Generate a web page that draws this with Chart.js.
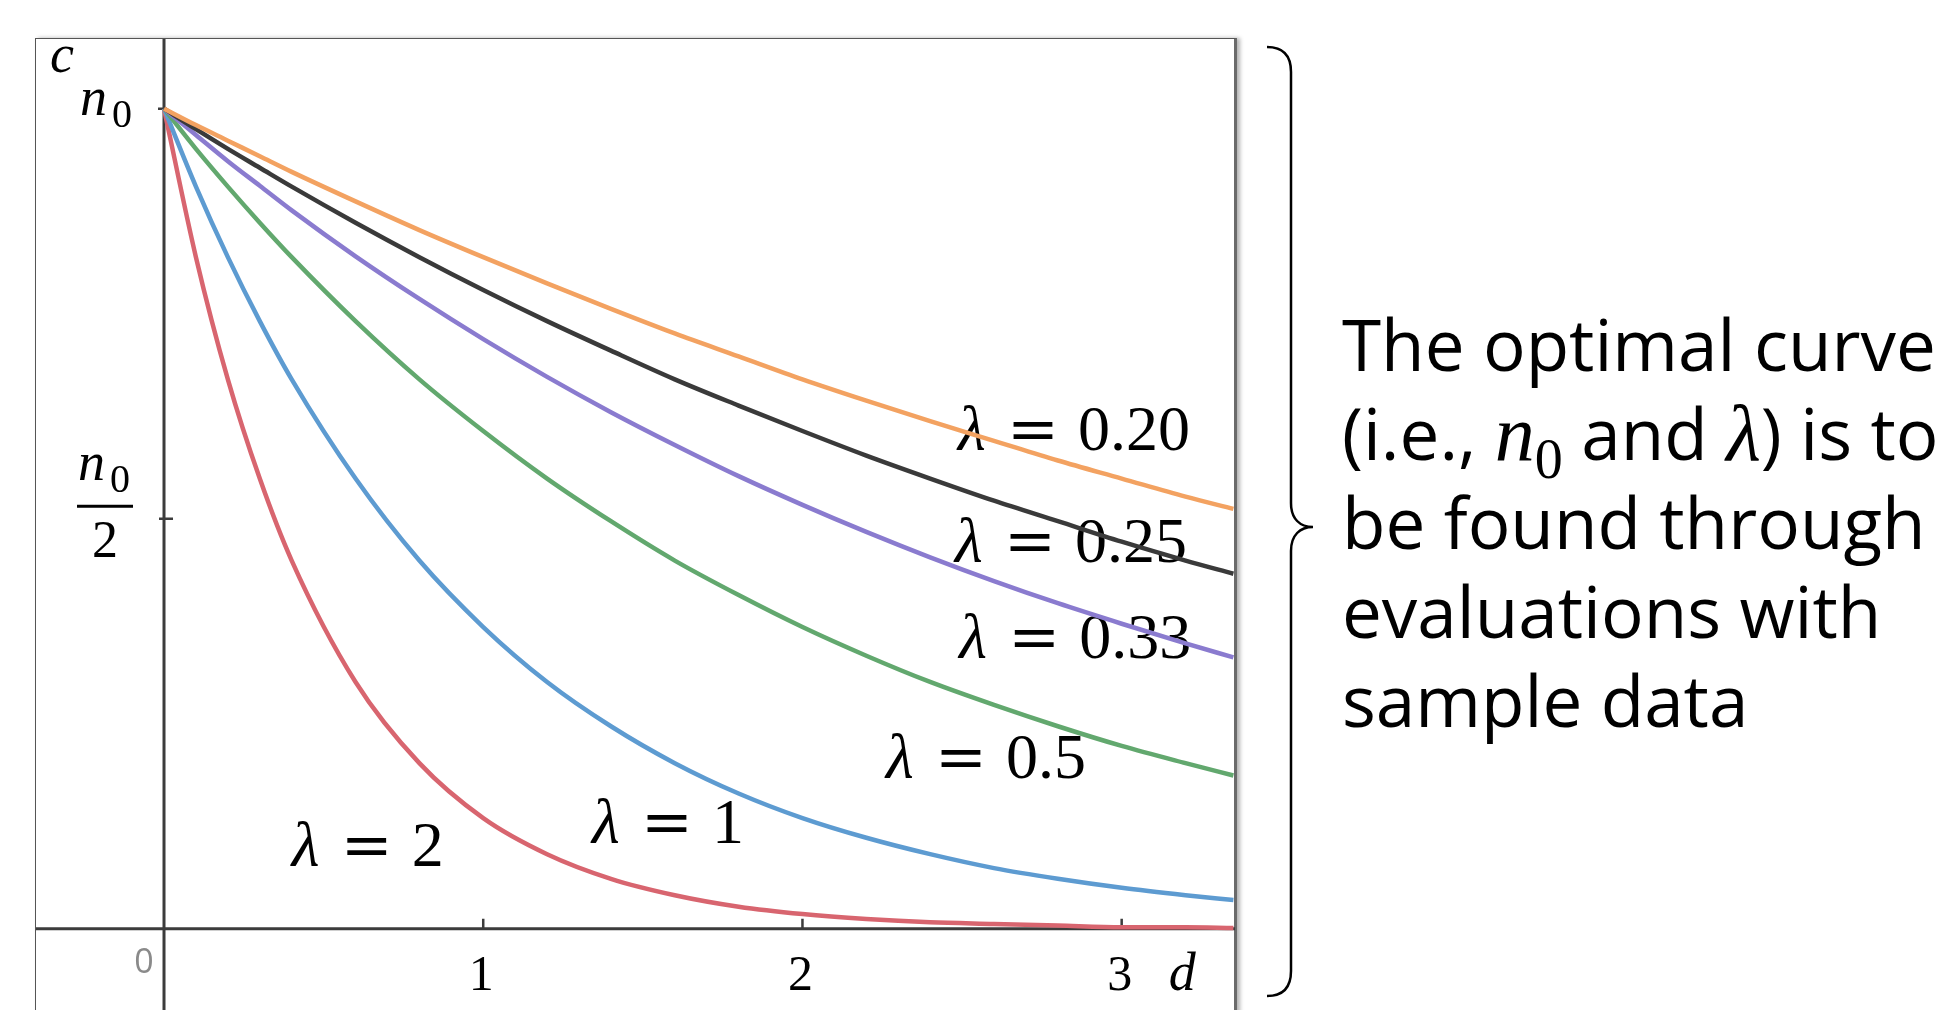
<!DOCTYPE html>
<html>
<head>
<meta charset="utf-8">
<script src="https://cdn.jsdelivr.net/npm/chart.js@4.4.1/dist/chart.umd.min.js"></script>
<style>
    html, body { margin: 0; padding: 0; background: #fff; width: 1948px; height: 1010px; overflow: hidden; }
    #frame {
        position: absolute; left: 35px; top: 38px; width: 1198px; height: 1000px;
        border: 1.5px solid #555; border-right: 3px solid #6a6a6a;
        box-shadow: 3px 0 4px rgba(0, 0, 0, 0.3);
    }
    #plot { position: absolute; left: 36px; top: 39px; }
    #brace { position: absolute; left: 0; top: 0; }
    #note {
        position: absolute; left: 1342px; top: 299px;
        font-family: "Open Sans"; font-size: 71px; line-height: 89px;
        color: #000; white-space: nowrap;
    }
    .m { font-family: "Liberation Serif"; font-style: italic; font-size: 80px; line-height: 0; }
    .sub { font-family: "Liberation Serif"; font-size: 56px; line-height: 0; position: relative; top: 18px; }
</style>
</head>
<body>
<div id="frame"></div>
<canvas id="plot" width="1199" height="971"></canvas>
<svg id="brace" width="1948" height="1010">
    <path d="M1267,47 Q1291,47 1291,72 L1291,503 C1291,519 1300,527 1313,527 C1300,527 1291,535 1291,551 L1291,971 Q1291,996 1267,996"
          fill="none" stroke="#000" stroke-width="2.5"/>
</svg>
<div id="note">
    The optimal curve<br>
    (i.e., <span class="m">n</span><span class="sub">0</span> and <span class="m">λ</span>) is to<br>
    be found through<br>
    evaluations with<br>
    sample data
</div>

<script>
// distance d (x axis)
const dValues = [0, 0.1, 0.2, 0.3, 0.4, 0.6, 0.8, 1.0, 1.2, 1.4, 1.6, 1.8, 2.0, 2.2, 2.4, 2.6, 2.8, 3.0, 3.2, 3.35];

// c as a fraction of n0, one array per curve
const cLambda020 = [1, 0.980, 0.961, 0.942, 0.923, 0.887, 0.852, 0.819, 0.787, 0.756, 0.726, 0.698, 0.670, 0.644, 0.619, 0.595, 0.571, 0.549, 0.527, 0.512];
const cLambda025 = [1, 0.975, 0.951, 0.928, 0.905, 0.861, 0.819, 0.779, 0.741, 0.705, 0.670, 0.638, 0.607, 0.577, 0.549, 0.522, 0.497, 0.472, 0.449, 0.433];
const cLambda033 = [1, 0.968, 0.936, 0.906, 0.876, 0.820, 0.768, 0.719, 0.673, 0.630, 0.590, 0.552, 0.517, 0.484, 0.453, 0.424, 0.397, 0.372, 0.348, 0.331];
const cLambda05 = [1, 0.951, 0.905, 0.861, 0.819, 0.741, 0.670, 0.607, 0.549, 0.497, 0.449, 0.407, 0.368, 0.333, 0.301, 0.273, 0.247, 0.223, 0.202, 0.187];
const cLambda1 = [1, 0.905, 0.819, 0.741, 0.670, 0.549, 0.449, 0.368, 0.301, 0.247, 0.202, 0.165, 0.135, 0.111, 0.091, 0.074, 0.061, 0.050, 0.041, 0.035];
const cLambda2 = [1, 0.819, 0.670, 0.549, 0.449, 0.301, 0.202, 0.135, 0.091, 0.061, 0.041, 0.027, 0.018, 0.012, 0.008, 0.006, 0.004, 0.002, 0.002, 0.001];

const lambdaNames = ['0.20', '0.25', '0.33', '0.5', '1', '2'];
const xTickLabels = ['1', '2', '3'];
const xTickValues = [1, 2, 3];

// where each λ label sits (d, c of its baseline start)
const labelD = [2.487, 2.478, 2.491, 2.262, 1.341, 0.400];
const labelC = [0.584, 0.447, 0.330, 0.184, 0.105, 0.077];

const series = [cLambda020, cLambda025, cLambda033, cLambda05, cLambda1, cLambda2];
const colors = ['#f3a261', '#3a3a3a', '#8a7bcf', '#62a86e', '#5d9bd1', '#d8656f'];

const mathFont = '"Liberation Serif"';

const decor = {
    id: 'decor',
    beforeDatasetsDraw(chart) {
        const { ctx, chartArea: a, scales: { x, y } } = chart;
        const x0 = x.getPixelForValue(0);
        const y0 = y.getPixelForValue(0);
        ctx.save();

        // axes
        ctx.strokeStyle = '#3c3c3c';
        ctx.lineWidth = 3;
        ctx.beginPath();
        ctx.moveTo(a.left, y0); ctx.lineTo(a.right, y0);
        ctx.moveTo(x0, a.top); ctx.lineTo(x0, a.bottom);
        ctx.stroke();

        // tick marks
        ctx.lineWidth = 2.5;
        ctx.beginPath();
        xTickValues.forEach(t => {
            const px = x.getPixelForValue(t);
            ctx.moveTo(px, y0 - 10); ctx.lineTo(px, y0);
        });
        const yHalf = y.getPixelForValue(0.5);
        ctx.moveTo(x0 - 5, yHalf); ctx.lineTo(x0 + 9, yHalf);
        const yTop = y.getPixelForValue(1);
        ctx.moveTo(x0 - 6, yTop); ctx.lineTo(x0, yTop);
        ctx.stroke();

        ctx.fillStyle = '#000';
        ctx.textBaseline = 'alphabetic';

        // x tick labels
        ctx.font = '50px ' + mathFont;
        ctx.textAlign = 'center';
        xTickValues.forEach((t, i) => {
            ctx.fillText(xTickLabels[i], x.getPixelForValue(t) - 2, y0 + 61);
        });
        ctx.textAlign = 'left';
        ctx.font = 'italic 54px ' + mathFont;
        ctx.fillText('d', x.getPixelForValue(3) + 47, y0 + 61);

        // origin
        ctx.font = '34px "Open Sans"';
        ctx.fillStyle = '#8a8a8a';
        ctx.textAlign = 'center';
        ctx.fillText('0', x0 - 20, y0 + 44);
        ctx.fillStyle = '#000';

        // y axis labels
        ctx.textAlign = 'left';
        ctx.font = 'italic 54px ' + mathFont;
        ctx.fillText('c', a.left + 14, a.top + 33);
        ctx.fillText('n', x0 - 84, yTop + 6);
        ctx.font = '40px ' + mathFont;
        ctx.fillText('0', x0 - 52, yTop + 18);

        ctx.font = 'italic 54px ' + mathFont;
        ctx.fillText('n', x0 - 86, yHalf - 39);
        ctx.font = '40px ' + mathFont;
        ctx.fillText('0', x0 - 54, yHalf - 27);
        ctx.fillRect(x0 - 87, yHalf - 14, 56, 3);
        ctx.font = '52px ' + mathFont;
        ctx.fillText('2', x0 - 72, yHalf + 38);

        // λ labels
        lambdaNames.forEach((name, i) => {
            const px = x.getPixelForValue(labelD[i]);
            const py = y.getPixelForValue(labelC[i]);
            ctx.font = 'italic 64px ' + mathFont;
            ctx.fillText('λ', px, py);
            ctx.font = '62px "DejaVu Serif"';
            ctx.fillText('=', px + 49, py);
            ctx.font = '64px ' + mathFont;
            ctx.fillText(name, px + 120, py);
        });
        ctx.restore();
    }
};

const datasets = series.map((vals, i) => ({
    label: 'λ = ' + lambdaNames[i],
    data: dValues.map((d, j) => ({ x: d, y: vals[j] })),
    borderColor: colors[i],
    borderWidth: 4.5,
    pointRadius: 0,
    showLine: true,
    fill: false,
    cubicInterpolationMode: 'monotone'
}));

const ctx = document.getElementById('plot').getContext('2d');
new Chart(ctx, {
    type: 'scatter',
    data: { datasets: datasets },
    options: {
        responsive: false,
        animation: false,
        events: [],
        layout: { padding: 0 },
        plugins: { legend: { display: false }, tooltip: { enabled: false } },
        scales: {
            x: { type: 'linear', min: -0.401, max: 3.355, display: false },
            y: { type: 'linear', min: -0.099, max: 1.085, display: false }
        }
    },
    plugins: [decor]
});
</script>
</body>
</html>
